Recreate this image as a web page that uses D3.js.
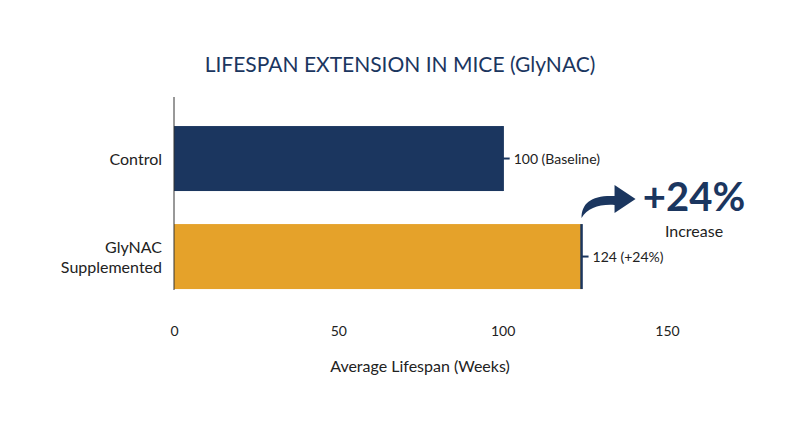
<!DOCTYPE html>
<html><head><meta charset="utf-8">
<script src="https://cdn.jsdelivr.net/npm/d3@7"></script>
<style>body{margin:0;background:#fff}text{font-family:Lato,"Open Sans",sans-serif}</style>
</head><body><div id="chart"></div>
<script>
const categories = ["Control", "GlyNAC Supplemented"];
const values = [100, 124];
const valueLabels = ["100 (Baseline)", "124 (+24%)"];
const ticks = [0, 50, 100, 150];
const colors = ["#1b365f", "#e5a22a"];
const navy = "#1b365f";

const width = 800, height = 447;
const svg = d3.select("#chart").append("svg").attr("width", width).attr("height", height);

const x = d3.scaleLinear().domain([0, 150]).range([174, 667]);
const y = d3.scaleBand().domain(categories).range([93.7, 321.4]).paddingInner(0.337).paddingOuter(0.33);

svg.append("text").attr("x", 400).attr("y", 72).attr("text-anchor", "middle")
    .attr("fill", navy).style("font-size", "21px").text("LIFESPAN EXTENSION IN MICE (GlyNAC)");

// bars
svg.selectAll("rect.bar").data(values).enter().append("rect")
    .attr("x", x(0)).attr("y", (d, i) => y(categories[i]))
    .attr("width", d => x(d) - x(0)).attr("height", y.bandwidth())
    .attr("fill", (d, i) => colors[i]);

// end lines and label ticks
svg.selectAll("line.end").data(values).enter().append("line")
    .attr("x1", d => x(d)).attr("x2", d => x(d))
    .attr("y1", (d, i) => y(categories[i])).attr("y2", (d, i) => y(categories[i]) + y.bandwidth())
    .attr("stroke", navy).attr("stroke-width", 2.5);
svg.selectAll("line.tk").data(values).enter().append("line")
    .attr("x1", d => x(d)).attr("x2", d => x(d) + 7)
    .attr("y1", (d, i) => y(categories[i]) + y.bandwidth() / 2)
    .attr("y2", (d, i) => y(categories[i]) + y.bandwidth() / 2)
    .attr("stroke", navy).attr("stroke-width", 2);
svg.selectAll("text.val").data(values).enter().append("text")
    .attr("x", d => x(d) + 11).attr("y", (d, i) => y(categories[i]) + y.bandwidth() / 2 + 5)
    .attr("fill", "#222").style("font-size", "14px").text((d, i) => valueLabels[i]);

// y axis line
svg.append("line").attr("x1", x(0)).attr("x2", x(0)).attr("y1", 97).attr("y2", 290)
    .attr("stroke", "#333").attr("stroke-width", 1);

// category labels
categories.forEach((c, i) => {
    const cy = y(c) + y.bandwidth() / 2;
    const t = svg.append("text").attr("text-anchor", "end").attr("fill", "#222").style("font-size", "16px");
    if (i === 0) {
        t.append("tspan").attr("x", 162).attr("y", cy + 6).text(c);
    } else {
        t.append("tspan").attr("x", 162).attr("y", cy - 4).text("GlyNAC");
        t.append("tspan").attr("x", 162).attr("y", cy + 16).text("Supplemented");
    }
});

// x axis
const xAxis = svg.append("g").attr("transform", "translate(0,322)")
    .call(d3.axisBottom(x).tickValues(ticks).tickSize(0).tickPadding(0));
xAxis.select(".domain").remove();
xAxis.selectAll("text").attr("fill", "#222").style("font-size", "14px")
    .style("font-family", 'Lato,sans-serif').attr("dy", "1em");

svg.append("text").attr("x", 420).attr("y", 372).attr("text-anchor", "middle")
    .attr("fill", "#222").style("font-size", "16px").text("Average Lifespan (Weeks)");

// annotation arrow
const ax = x(values[1]);
svg.append("path")
    .attr("d", `M${ax},218 C${ax},203 ${ax + 10},195 ${ax + 33},196 L${ax + 33},185 L${ax + 54},199 L${ax + 33},213 L${ax + 33},205 C${ax + 18},204 ${ax + 6},208 ${ax},218 Z`)
    .attr("fill", navy);
svg.append("text").attr("x", 694).attr("y", 211).attr("text-anchor", "middle")
    .attr("fill", navy).style("font-size", "40px").style("font-weight", "bold").text("+24%");
svg.append("text").attr("x", 694).attr("y", 237).attr("text-anchor", "middle")
    .attr("fill", "#222").style("font-size", "16px").text("Increase");
</script></body></html>
